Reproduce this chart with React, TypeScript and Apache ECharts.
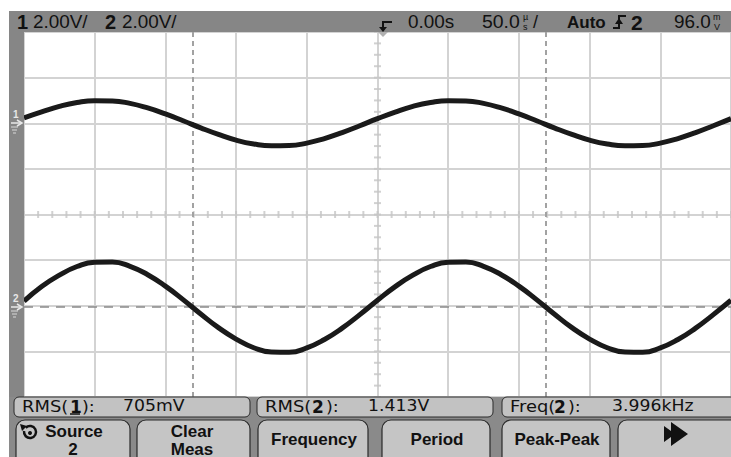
import React, { useEffect, useRef } from "react";
import * as echarts from "echarts";

// Time base: 50 µs/div, 10 divisions, trigger at 0 µs
const timeUs = [
  -250, -237.5, -225, -212.5, -200, -187.5, -175, -162.5, -150, -137.5,
  -125, -112.5, -100, -87.5, -75, -62.5, -50, -37.5, -25, -12.5,
  0, 12.5, 25, 37.5, 50, 62.5, 75, 87.5, 100, 112.5,
  125, 137.5, 150, 162.5, 175, 187.5, 200, 212.5, 225, 237.5, 250,
];
// Channel 1 (2.00 V/div), volts
const ch1Volts = [
  0.24, 0.5, 0.74, 0.91, 0.99, 0.98, 0.87, 0.67, 0.41, 0.11,
  -0.2, -0.49, -0.74, -0.91, -0.99, -0.98, -0.87, -0.67, -0.41, -0.11,
  0.2, 0.49, 0.74, 0.91, 0.99, 0.98, 0.87, 0.67, 0.41, 0.11,
  -0.2, -0.49, -0.74, -0.91, -0.99, -0.98, -0.87, -0.67, -0.41, -0.11, 0.2,
];
// Channel 2 (2.00 V/div), volts
const ch2Volts = [
  0.26, 0.9, 1.4, 1.78, 1.97, 1.98, 1.79, 1.42, 0.92, 0.33,
  -0.3, -0.9, -1.4, -1.78, -1.97, -1.98, -1.79, -1.42, -0.92, -0.33,
  0.3, 0.9, 1.4, 1.78, 1.97, 1.98, 1.79, 1.42, 0.92, 0.33,
  -0.3, -0.9, -1.4, -1.78, -1.97, -1.98, -1.79, -1.42, -0.92, -0.33, 0.3,
];
// Measurement cursors (µs) and channel-2 ground level (V)
const cursorTimesUs = [-131, 119];
const ch2GroundVolts = [0];

// Graticule minor ticks on the centre lines
const minorTimeTicks = Array.from({ length: 51 }, (_, i) => -250 + i * 10);
const minorDivTicks = Array.from({ length: 33 }, (_, i) => -4 + i * 0.25);

// Status / softkey texts
const measLabels = ["RMS(", "RMS(", "Freq("];
const measChannels = ["1", "2", "2"];
const measValues = ["705mV", "1.413V", "3.996kHz"];
const softkeys = ["Frequency", "Period", "Peak-Peak"];

const TEXT = (
  text: string,
  x: number,
  y: number,
  o: any = {}
) => ({
  type: "text",
  x,
  y,
  z: 110,
  scaleX: o.sx ?? 1,
  silent: true,
  style: {
    text,
    fill: o.fill ?? "#111",
    fontSize: o.size ?? 18,
    fontFamily: o.family ?? "Liberation Sans",
    fontWeight: o.weight ?? "normal",
    align: o.align ?? "left",
    verticalAlign: "middle",
  },
});

const RECT = (x: number, y: number, w: number, h: number, fill: string, o: any = {}) => ({
  type: "rect",
  z: o.z ?? 100,
  silent: true,
  shape: { x, y, width: w, height: h, r: o.r ?? 0 },
  style: { fill, stroke: o.stroke ?? null, lineWidth: o.lw ?? 0 },
});

export default function App() {
  const ref = useRef<HTMLDivElement>(null);

  useEffect(() => {
    document.body.style.margin = "0";
    const chart = echarts.init(ref.current!, null, { renderer: "svg" });

    const barGray = "#868686";
    const g: any[] = [];
    // frame bars
    g.push(RECT(9, 11, 722, 21, barGray));
    g.push(RECT(9, 11, 15, 386, barGray));
    g.push(RECT(9, 397, 722, 60, "#8a8a8a"));

    // top status line
    g.push(TEXT("1", 17, 22, { size: 20, weight: "bold" }));
    g.push(TEXT("2.00V/", 33, 22, { sx: 1.05 }));
    g.push(TEXT("2", 105, 22, { size: 20, weight: "bold" }));
    g.push(TEXT("2.00V/", 122, 22, { sx: 1.05 }));
    g.push(TEXT("0.00s", 408, 22, { sx: 1.05 }));
    g.push(TEXT("50.0", 482, 22, { sx: 1.08 }));
    g.push(TEXT("µ", 523, 17, { size: 9 }));
    g.push(TEXT("s", 523, 27, { size: 9 }));
    g.push(TEXT("/", 533, 22));
    g.push(TEXT("Auto", 567, 22, { size: 17, weight: "bold" }));
    g.push({
      type: "polyline",
      z: 110,
      silent: true,
      shape: { points: [[613, 28], [619, 28], [619, 16], [626, 16]] },
      style: { stroke: "#111", lineWidth: 2, fill: null },
    });
    g.push({
      type: "polygon",
      z: 110,
      silent: true,
      shape: { points: [[615, 24], [619, 18], [623, 24]] },
      style: { fill: "#111" },
    });
    g.push(TEXT("2", 631, 22, { size: 21, weight: "bold" }));
    g.push(TEXT("96.0", 674, 22, { sx: 1.05 }));
    g.push(TEXT("m", 713, 17, { size: 9 }));
    g.push(TEXT("V", 714, 27, { size: 9 }));

    // trigger position marker
    g.push({
      type: "polyline",
      z: 110,
      silent: true,
      shape: { points: [[392, 22], [383, 22], [383, 29]] },
      style: { stroke: "#111", lineWidth: 2, fill: null },
    });
    g.push({
      type: "polygon",
      z: 110,
      silent: true,
      shape: { points: [[379, 27], [387, 27], [383, 32]] },
      style: { fill: "#111" },
    });
    g.push({
      type: "polygon",
      z: 110,
      silent: true,
      shape: { points: [[378, 32], [388, 32], [383, 37]] },
      style: { fill: "#b0b0b0" },
    });

    // channel ground markers on the left strip
    const markers: [string, number][] = [["1", 123], ["2", 307]];
    markers.forEach(([label, y]) => {
      g.push(TEXT(label, 13, y - 9, { size: 10, fill: "#e8e8e8", weight: "bold" }));
      g.push({
        type: "line",
        z: 110,
        silent: true,
        shape: { x1: 11, y1: y, x2: 21, y2: y },
        style: { stroke: "#e8e8e8", lineWidth: 1.5 },
      });
      g.push({
        type: "polyline",
        z: 110,
        silent: true,
        shape: { points: [[17, y - 3], [22, y], [17, y + 3]] },
        style: { stroke: "#e8e8e8", lineWidth: 1.5, fill: null },
      });
      [[11, 18, 4], [12, 17, 7], [13, 16, 10]].forEach(([a, b, d]) =>
        g.push({
          type: "line",
          z: 110,
          silent: true,
          shape: { x1: a, y1: y + d, x2: b, y2: y + d },
          style: { stroke: "#d8d8d8", lineWidth: 1 },
        })
      );
    });

    // measurement line
    const boxes = [
      { x: 14, w: 236, dx: 70, px: 82, vx: 123 },
      { x: 257, w: 236, dx: 312, px: 326, vx: 368 },
      { x: 502, w: 240, dx: 554, px: 568, vx: 612 },
    ];
    boxes.forEach((b, i) => {
      g.push(RECT(b.x, 397, b.w, 20, "#c2c2c2", { r: 5, stroke: "#2a2a2a", lw: 1 }));
      g.push(TEXT(measLabels[i], b.x + 8, 406, { size: 16, family: "DejaVu Sans", sx: 1.12 }));
      g.push(TEXT(measChannels[i], b.dx, 407, { size: 17, family: "DejaVu Sans", weight: "bold" }));
      g.push(TEXT("):", b.px, 406, { size: 16, family: "DejaVu Sans", sx: 1.1 }));
      g.push(TEXT(measValues[i], b.vx, 406, { size: 16, family: "DejaVu Sans", sx: 1.08 }));
    });
    g.push({
      type: "line",
      z: 110,
      silent: true,
      shape: { x1: 70, y1: 414, x2: 80, y2: 414 },
      style: { stroke: "#111", lineWidth: 1.5 },
    });

    // softkeys
    const keys = [
      { x: 16, w: 114 },
      { x: 137, w: 113 },
      { x: 258, w: 110 },
      { x: 382, w: 108 },
      { x: 502, w: 108 },
      { x: 618, w: 125 },
    ];
    keys.forEach((k) =>
      g.push(RECT(k.x, 420, k.w, 50, "#c5c5c5", { r: 9, stroke: "#2a2a2a", lw: 1.2 }))
    );
    g.push(TEXT("Source", 74, 431, { size: 17, weight: "bold", align: "center" }));
    g.push(TEXT("2", 73, 449, { size: 17, weight: "bold", align: "center" }));
    g.push(TEXT("Clear", 192, 431, { size: 17, weight: "bold", align: "center" }));
    g.push(TEXT("Meas", 192, 449, { size: 17, weight: "bold", align: "center" }));
    softkeys.forEach((s, i) => {
      const k = keys[i + 2];
      g.push(TEXT(s, k.x + k.w / 2 + 1, 439, { size: 17, weight: "bold", align: "center" }));
    });
    // source rotate icon
    g.push({
      type: "arc",
      z: 110,
      silent: true,
      shape: { cx: 30, cy: 432, r: 6, startAngle: -Math.PI * 0.75, endAngle: Math.PI * 1.05 },
      style: { stroke: "#111", lineWidth: 2.5, fill: null },
    });
    g.push({
      type: "polygon",
      z: 110,
      silent: true,
      shape: { points: [[20, 424], [27, 426], [22, 431]] },
      style: { fill: "#111" },
    });
    g.push({ type: "circle", z: 110, silent: true, shape: { cx: 30, cy: 433, r: 2 }, style: { fill: "#111" } });
    // more-arrow icon
    g.push({
      type: "polygon",
      z: 110,
      silent: true,
      shape: {
        points: [[664, 426], [671, 431], [671, 422], [688, 434], [671, 446], [671, 437], [664, 442]],
      },
      style: { fill: "#111" },
    });

    const gridLine = { show: true, lineStyle: { color: "#d3d3d3", width: 2 } };

    chart.setOption({
      animation: false,
      backgroundColor: "#ffffff",
      grid: { left: 24, right: -13, top: 32, bottom: 60, containLabel: false },
      xAxis: [
        {
          type: "value",
          min: -250,
          max: 250,
          interval: 50,
          axisLine: { show: false },
          axisTick: { show: false },
          axisLabel: { show: false },
          splitLine: gridLine,
        },
      ],
      yAxis: [
        {
          type: "value",
          min: -4,
          max: 4,
          interval: 1,
          axisLine: { show: false },
          axisTick: { show: false },
          axisLabel: { show: false },
          splitLine: gridLine,
        },
        {
          type: "value",
          min: -12,
          max: 4,
          show: false,
          splitLine: { show: false },
        },
        {
          type: "value",
          min: -3.94,
          max: 12.06,
          show: false,
          splitLine: { show: false },
        },
      ],
      series: [
        {
          type: "scatter",
          yAxisIndex: 0,
          silent: true,
          z: 1,
          symbol: "rect",
          symbolSize: [2, 7],
          itemStyle: { color: "#c6c6c6" },
          data: minorTimeTicks.map((t) => [t, 0]),
        },
        {
          type: "scatter",
          yAxisIndex: 0,
          silent: true,
          z: 1,
          symbol: "rect",
          symbolSize: [7, 2],
          itemStyle: { color: "#c6c6c6" },
          data: minorDivTicks.map((d) => [0, d]),
        },
        {
          type: "line",
          yAxisIndex: 2,
          silent: true,
          z: 1,
          symbol: "none",
          lineStyle: { opacity: 0 },
          data: timeUs.map((t, i) => [t, ch2Volts[i]]),
          markLine: {
            silent: true,
            symbol: "none",
            label: { show: false },
            data: [
              ...cursorTimesUs.map((t) => ({
                xAxis: t,
                lineStyle: { color: "#a2a2a2", width: 2, type: [5, 4] },
              })),
              ...ch2GroundVolts.map((v) => ({
                yAxis: v,
                lineStyle: { color: "#8a8a8a", width: 1.5, type: [9, 7] },
              })),
            ],
          },
        },
        {
          type: "line",
          name: "CH1",
          yAxisIndex: 1,
          z: 5,
          smooth: true,
          symbol: "none",
          lineStyle: { color: "#1a1a1a", width: 5 },
          data: timeUs.map((t, i) => [t, ch1Volts[i]]),
        },
        {
          type: "line",
          name: "CH2",
          yAxisIndex: 2,
          z: 5,
          smooth: true,
          symbol: "none",
          lineStyle: { color: "#1a1a1a", width: 5 },
          data: timeUs.map((t, i) => [t, ch2Volts[i]]),
        },
      ],
      graphic: { elements: g },
    });

    return () => chart.dispose();
  }, []);

  return <div ref={ref} style={{ width: 731, height: 457 }} />;
}
